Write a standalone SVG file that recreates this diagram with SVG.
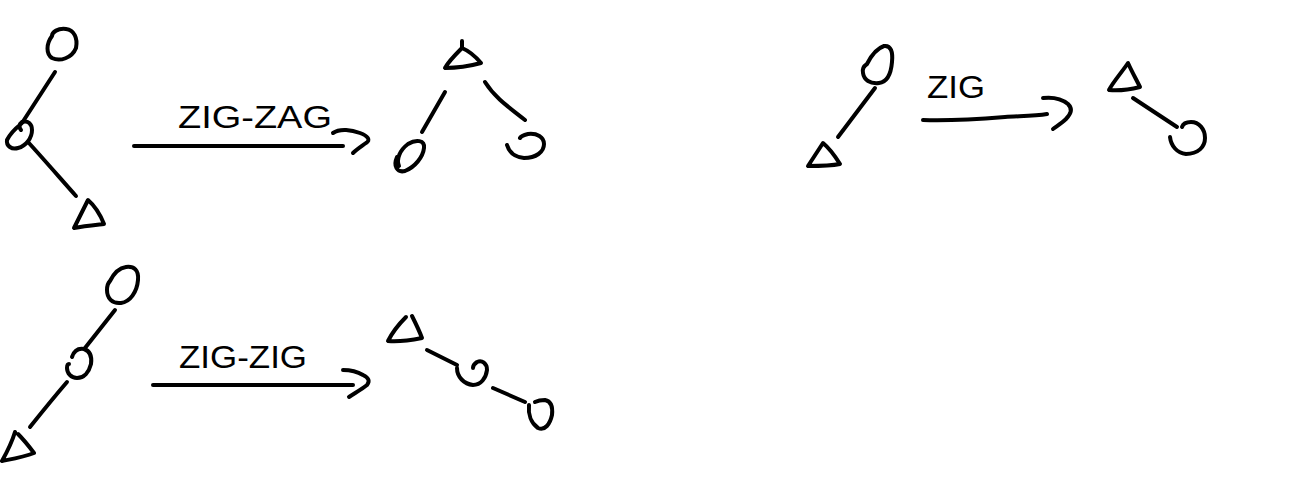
<svg xmlns="http://www.w3.org/2000/svg" width="1297" height="491" viewBox="0 0 1297 491">
<style>
.s{fill:none;stroke:#000;stroke-width:4;stroke-linecap:round;stroke-linejoin:round}
.t{font-family:"Liberation Sans",Arial,sans-serif;font-size:31px;fill:#000}
</style>
<rect width="1297" height="491" fill="#fff"/>
<g id="zigzag-before">
<path class="s" d="M52,36 C46,44 46,54 52,58 C60,62 72,58 76,48 C78,38 74,30 66,29 C58,28 52,32 52,36 Z"/>
<path class="s" d="M55,72 L22,123"/>
<path class="s" d="M21,124 C16,128 10,134 7,140 C6,146 12,150 18,148 C26,146 32,138 32,130 C32,124 28,120 22,122 C19,124 19,128 21,130"/>
<path class="s" d="M28,142 C40,155 60,178 76,196"/>
<path class="s" d="M88,200 L74,228 C84,226 95,225 104,224 C100,214 95,206 88,200 Z"/>
</g>
<g id="zigzag-after">
<path class="s" d="M462,41 L462,48 C455,55 448,62 445,68 C457,68 470,66 481,63 C476,57 469,51 462,48"/>
<path class="s" d="M445,92 L422,132"/>
<path class="s" d="M397,157 C393,166 397,173 405,171 C415,167 423,157 424,148 C425,140 416,139 408,144 C400,150 396,159 399,166"/>
<path class="s" d="M485,82 C495,98 510,108 525,120"/>
<path class="s" d="M507,145 C509,152 514,157 524,158 C536,158 544,152 544,144 C544,137 537,133 528,134 C524,135 521,136 520,138"/>
</g>
<g id="zig-before">
<path class="s" d="M867,64 C872,54 878,48 884,46 C891,45 893,52 892,62 C891,74 887,82 879,83 C870,84 864,80 863,73 C862,69 864,66 867,64 Z"/>
<path class="s" d="M875,88 L838,137"/>
<path class="s" d="M823,143 L808,166 C818,166 830,166 840,164 C835,156 829,148 823,143 Z"/>
</g>
<g id="zig-after">
<path class="s" d="M1128,63 C1122,72 1113,82 1109,90 C1120,91 1132,89 1140,87 C1136,79 1131,70 1128,63 Z"/>
<path class="s" d="M1133,98 C1148,108 1162,117 1177,127"/>
<path class="s" d="M1170,137 C1171,146 1177,153 1186,154 C1198,154 1205,147 1205,138 C1205,129 1199,122 1191,122 C1186,122 1183,124 1182,127"/>
</g>
<g id="zigzig-before">
<path class="s" d="M110,281 C114,273 119,268 126,267 C134,266 139,270 138,280 C137,292 130,302 121,303 C112,304 107,298 107,290 C107,286 108,283 110,281 Z"/>
<path class="s" d="M115,310 L85,348"/>
<path class="s" d="M72,357 C74,351 78,348 84,349 C90,351 92,357 91,364 C89,372 84,378 77,378 C71,378 67,373 67,368 C67,365 68,364 69,364"/>
<path class="s" d="M67,382 C55,396 42,412 30,427"/>
<path class="s" d="M15,432 C12,442 7,452 2,461 C12,459 24,457 34,453 C28,445 22,438 18,434"/>
</g>
<g id="zigzig-after">
<path class="s" d="M406,317 C399,324 392,333 388,341 C399,342 412,340 422,338 C419,330 415,322 412,316"/>
<path class="s" d="M427,350 L457,365"/>
<path class="s" d="M457,368 C457,377 464,384 473,385 C481,385 486,378 487,370 C487,363 482,360 477,362 C474,364 473,366 473,368"/>
<path class="s" d="M493,388 L525,402"/>
<path class="s" d="M529,405 C528,414 531,423 538,428 C545,431 550,424 552,415 C553,406 550,401 545,400 C541,400 537,401 535,402"/>
</g>
<g id="connectors">
<path class="s" d="M134,146 L343,146"/>
<path class="s" d="M333,133 C340,128 352,130 360,133 C368,136 371,140 366,143 C362,146 357,149 353,153"/>
<path class="s" d="M923,120 C950,121 980,119 1005,117 C1020,116 1035,116 1047,114"/>
<path class="s" d="M1043,98 C1052,97 1062,99 1068,104 C1073,109 1071,114 1066,119 C1062,123 1057,126 1053,129"/>
<path class="s" d="M153,385 L353,385"/>
<path class="s" d="M343,370 C351,370 358,372 363,375 C369,378 370,381 367,385 C362,389 355,393 349,397"/>
</g>
<g id="labels">
<text class="t" x="178" y="128" textLength="154" lengthAdjust="spacingAndGlyphs">ZIG-ZAG</text>
<text class="t" x="179" y="368" textLength="128" lengthAdjust="spacingAndGlyphs">ZIG-ZIG</text>
<text class="t" x="927" y="98" textLength="58" lengthAdjust="spacingAndGlyphs">ZIG</text>
</g>
</svg>
